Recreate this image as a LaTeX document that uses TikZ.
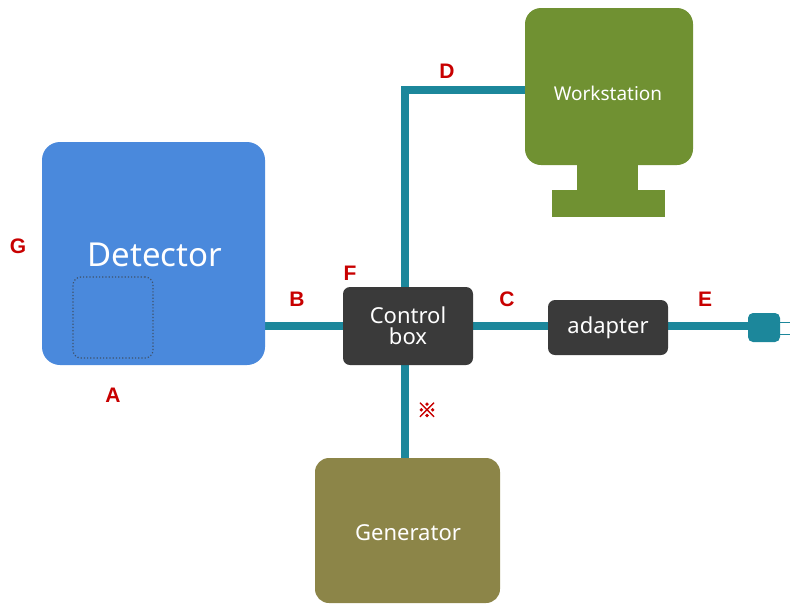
\documentclass[tikz,border=0pt]{standalone}
\usepackage{fontspec}
\setmainfont{Noto Sans}
\newfontfamily\lblfont{Liberation Sans}
\newfontfamily\cjkfont{Noto Sans CJK KR}[FakeBold=2]
\usetikzlibrary{backgrounds}
\definecolor{detblue}{RGB}{74,137,220}
\definecolor{wsgreen}{RGB}{112,145,50}
\definecolor{genolive}{RGB}{140,133,72}
\definecolor{boxgrey}{RGB}{58,58,58}
\definecolor{cable}{RGB}{28,135,155}
\definecolor{lblred}{RGB}{200,0,0}
\begin{document}
\begin{tikzpicture}[x=1pt,y=-1pt,
  unit/.style={rounded corners=18pt, inner sep=0pt, text=white},
  darkbox/.style={fill=boxgrey, rounded corners=7pt, inner sep=0pt, text=white, font=\fontsize{22}{24}\selectfont, align=center},
  cablel/.style={draw=cable, line width=8pt},
  lbl/.style={text=lblred, font=\lblfont\bfseries\fontsize{21}{22}\selectfont, inner sep=0pt}]
\useasboundingbox (0,0) rectangle (790,603);
% units
\node[unit, fill=detblue, minimum width=223pt, minimum height=223pt] (det) at (153.5,253.5) {};
\node[text=white, font=\fontsize{33}{36}\selectfont] (dettext) at (155,255) {Detector};
\node[draw=boxgrey!70!detblue, dotted, line width=1.2pt, rounded corners=8pt, minimum width=80pt, minimum height=81pt, inner sep=0pt] (area) at (113,317.5) {};
\node[unit, fill=wsgreen, minimum width=168pt, minimum height=157pt, rounded corners=16pt] (ws) at (609,86.5) {};
\node[text=white, font=\fontsize{19}{21}\selectfont] (wstext) at (608,93) {Workstation};
\node[fill=wsgreen, minimum width=61pt, minimum height=28pt, inner sep=0pt, anchor=north] (neck) at (607.5,162) {};
\node[fill=wsgreen, minimum width=113pt, minimum height=27pt, inner sep=0pt, anchor=north] (base) at (608.5,190) {};
\node[unit, fill=genolive, minimum width=185pt, minimum height=145pt, rounded corners=14pt] (gen) at (407.5,530.5) {};
\node[text=white, font=\fontsize{22}{24}\selectfont] (gentext) at (408,533) {Generator};
\node[darkbox, minimum width=130pt, minimum height=78pt] (ctrl) at (408,326) {Control\\[-3pt]box};
\node[darkbox, minimum width=120pt, minimum height=55pt] (adp) at (608,327.5) {adapter};
\node[fill=cable, rounded corners=5pt, minimum width=32pt, minimum height=29pt, inner sep=0pt] (plug) at (764,327.5) {};
% cables
\coordinate (dcorner) at (405,90);
\coordinate (p1) at (790,322);
\coordinate (p2) at (790,334);
\begin{scope}[on background layer]
\draw[cablel] (gen.north -| dcorner) -- (dcorner) -- (dcorner -| ws.west);
\draw[cablel] (det.east |- 0,326) -- (ctrl.west |- 0,326);
\draw[cablel] (ctrl.east |- 0,326) -- (adp.west |- 0,326);
\draw[cablel] (adp.east |- 0,326) -- (plug.west |- 0,326);
\end{scope}
\draw[cable, line width=1pt] (plug.east |- p1) -- (p1);
\draw[cable, line width=1pt] (plug.east |- p2) -- (p2);
% labels
\node[lbl] (G) at (18,246) {G};
\node[lbl] (A) at (113,395) {A};
\node[lbl] (B) at (297,299) {B};
\node[lbl] (F) at (350,273) {F};
\node[lbl] (C) at (507,299) {C};
\node[lbl] (D) at (447,71) {D};
\node[lbl] (E) at (705,299) {E};
\node[text=lblred, font=\cjkfont\fontsize{20}{21}\selectfont, inner sep=0pt] (note) at (427,410) {※};
\end{tikzpicture}
\end{document}
